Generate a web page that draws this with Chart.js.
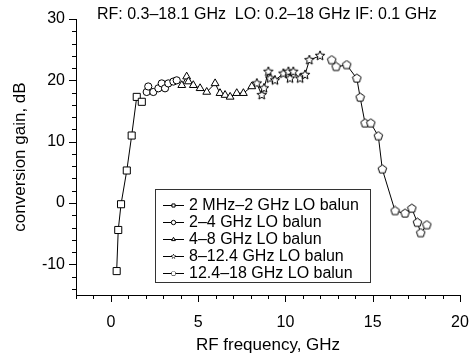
<!DOCTYPE html>
<html>
<head>
<meta charset="utf-8">
<script src="https://cdn.jsdelivr.net/npm/chart.js@4.4.0/dist/chart.umd.min.js"></script>
<style>
  html, body { margin: 0; padding: 0; background: #fff; }
</style>
</head>
<body>
<canvas id="myChart" width="472" height="356"></canvas>
<script>
// legend labels
const seriesLabels = [
  '2 MHz\u20132 GHz LO balun',
  '2\u20134 GHz LO balun',
  '4\u20138 GHz LO balun',
  '8\u201312.4 GHz LO balun',
  '12.4\u201318 GHz LO balun'
];

// RF frequency (GHz) / conversion gain (dB)
const balun1X = [0.33, 0.42, 0.58, 0.91, 1.19, 1.48, 1.77];
const balun1Y = [-11.1, -4.4, -0.2, 5.3, 11.0, 17.3, 16.5];

const balun2X = [2.05, 2.14, 2.43, 2.72, 2.91, 3.10, 3.29, 3.58, 3.77];
const balun2Y = [18.1, 19.0, 18.1, 18.7, 19.5, 18.7, 19.5, 19.8, 20.0];

const balun3X = [4.06, 4.34, 4.44, 4.72, 5.11, 5.49, 5.97, 6.25, 6.54, 6.83, 7.21, 7.59, 8.07];
const balun3Y = [19.2, 20.6, 19.8, 19.2, 18.7, 18.1, 19.5, 17.9, 17.6, 17.3, 17.9, 17.9, 19.0];

const balun4X = [8.36, 8.64, 8.77, 9.02, 9.12, 9.40, 9.88, 10.17, 10.26, 10.45, 10.84, 11.12, 11.37, 11.98];
const balun4Y = [19.5, 17.6, 18.7, 21.4, 20.3, 20.0, 21.1, 21.4, 20.3, 21.4, 20.3, 20.9, 23.3, 24.0];

const balun5X = [12.65, 12.90, 13.51, 14.09, 14.28, 14.56, 14.89, 15.32, 15.55, 16.28, 16.85, 17.24, 17.56, 17.75, 18.10];
const balun5Y = [23.3, 22.2, 22.5, 20.3, 17.2, 13.0, 13.0, 10.9, 5.5, -1.3, -1.7, -0.9, -3.2, -4.9, -3.6];

// axis tick labels
const xTickLabels = [0, 5, 10, 15, 20];
const yTickLabels = [-10, 0, 10, 20, 30];

const note = 'RF: 0.3\u201318.1 GHz  LO: 0.2\u201318 GHz IF: 0.1 GHz';

const FONT = '"Liberation Sans", Arial, Helvetica, sans-serif';
Chart.defaults.font.family = FONT;
Chart.defaults.color = '#000';

function toPoints(xs, ys) {
  return xs.map((x, i) => ({ x: x, y: ys[i] }));
}

// little marker images for the shapes chart.js doesn't have
function makeMarker(kind, size) {
  const c = document.createElement('canvas');
  c.width = size; c.height = size;
  const g = c.getContext('2d');
  const cx = size / 2, cy = size / 2;
  const r = size / 2 - 1;
  g.beginPath();
  if (kind === 'star') {
    for (let i = 0; i < 10; i++) {
      const rr = i % 2 === 0 ? r : r * 0.45;
      const a = -Math.PI / 2 + i * Math.PI / 5;
      const px = cx + rr * Math.cos(a), py = cy + rr * Math.sin(a);
      if (i === 0) g.moveTo(px, py); else g.lineTo(px, py);
    }
  } else {
    for (let i = 0; i < 5; i++) {
      const a = -Math.PI / 2 + i * 2 * Math.PI / 5;
      const px = cx + r * Math.cos(a), py = cy + r * Math.sin(a);
      if (i === 0) g.moveTo(px, py); else g.lineTo(px, py);
    }
  }
  g.closePath();
  g.fillStyle = '#fff';
  g.fill();
  g.lineWidth = 1;
  g.strokeStyle = '#000';
  g.stroke();
  return c;
}

const starImg = makeMarker('star', 12);
const pentImg = makeMarker('pent', 11);

function series(label, xs, ys, style, radius) {
  return {
    label: label,
    data: toPoints(xs, ys),
    showLine: true,
    borderColor: '#000',
    borderWidth: 1,
    backgroundColor: '#fff',
    pointStyle: style,
    pointRadius: radius,
    pointBorderWidth: 1,
    pointBorderColor: '#000',
    pointBackgroundColor: '#fff',
    pointHoverRadius: radius
  };
}

// ticks, note and boxed legend
const extras = {
  id: 'extras',
  afterDraw(chart) {
    const ctx = chart.ctx;
    const xs = chart.scales.x, ys = chart.scales.y;
    const area = chart.chartArea;
    ctx.save();
    ctx.strokeStyle = '#000';
    ctx.lineWidth = 1;
    ctx.beginPath();
    for (let v = -14; v <= 30; v += 2) {
      const py = Math.round(ys.getPixelForValue(v)) + 0.5;
      const len = v % 10 === 0 ? 7 : 4;
      ctx.moveTo(area.left - len, py);
      ctx.lineTo(area.left, py);
    }
    for (let v = -2; v <= 20; v += 1) {
      const px = Math.round(xs.getPixelForValue(v)) + 0.5;
      const len = v % 5 === 0 ? 7 : 4;
      ctx.moveTo(px, area.bottom);
      ctx.lineTo(px, area.bottom + len);
    }
    ctx.stroke();

    ctx.fillStyle = '#000';
    ctx.font = '16px ' + FONT;
    ctx.textAlign = 'left';
    ctx.textBaseline = 'middle';
    ctx.fillText(note, 97, 15);

    // legend box
    const bx = 155.5, by = 189.5, bw = 215, bh = 93;
    ctx.strokeStyle = '#333';
    ctx.strokeRect(bx, by, bw, bh);
    const sets = chart.data.datasets;
    ctx.font = '16px ' + FONT;
    sets.forEach((ds, i) => {
      const ly = 205 + i * 17;
      ctx.strokeStyle = '#000';
      ctx.beginPath();
      ctx.moveTo(163, ly + 0.5);
      ctx.lineTo(184, ly + 0.5);
      ctx.stroke();
      if (ds.pointStyle instanceof HTMLCanvasElement) {
        ctx.drawImage(ds.pointStyle, 170.5, ly - 2.5, 6, 6);
      } else {
        ctx.fillStyle = '#fff';
        ctx.lineWidth = 1;
        Chart.helpers.drawPoint(ctx, { pointStyle: ds.pointStyle, radius: 2.2, rotation: 0, borderWidth: 1 }, 173.5, ly + 0.5);
      }
      ctx.fillStyle = '#000';
      ctx.fillText(ds.label, 189, ly + 1);
    });
    ctx.restore();
  }
};

new Chart(document.getElementById('myChart'), {
  type: 'scatter',
  data: {
    datasets: [
      series(seriesLabels[0], balun1X, balun1Y, 'rect', 5),
      series(seriesLabels[1], balun2X, balun2Y, 'circle', 3.6),
      series(seriesLabels[2], balun3X, balun3Y, 'triangle', 4.5),
      series(seriesLabels[3], balun4X, balun4Y, starImg, 4),
      series(seriesLabels[4], balun5X, balun5Y, pentImg, 4)
    ]
  },
  options: {
    responsive: false,
    animation: false,
    layout: { padding: { top: 19, right: 12, left: 0, bottom: 0 } },
    plugins: {
      legend: { display: false },
      tooltip: { enabled: false }
    },
    scales: {
      x: {
        type: 'linear',
        position: 'bottom',
        min: -2,
        max: 20,
        grid: { display: false, drawTicks: false },
        border: { display: true, color: '#000', width: 1 },
        ticks: { stepSize: 5, padding: 18, font: { size: 16 }, color: '#000' },
        afterBuildTicks: s => { s.ticks = xTickLabels.map(v => ({ value: v })); },
        afterFit: s => { s.height = 61; s.paddingLeft = 0; s.paddingRight = 0; },
        title: { display: true, text: 'RF frequency, GHz', font: { size: 17 }, color: '#000', padding: { top: 0, bottom: 0 } }
      },
      y: {
        type: 'linear',
        min: -15,
        max: 30,
        grid: { display: false, drawTicks: false },
        border: { display: true, color: '#000', width: 1 },
        ticks: { stepSize: 10, padding: 11, font: { size: 16 }, color: '#000' },
        afterBuildTicks: s => { s.ticks = yTickLabels.map(v => ({ value: v })); },
        afterFit: s => { s.width = 76; s.paddingTop = 0; s.paddingBottom = 0; },
        title: { display: true, text: 'conversion gain, dB', font: { size: 17 }, color: '#000', padding: { top: 10, bottom: 0 } }
      }
    }
  },
  plugins: [extras]
});
</script>
</body>
</html>
